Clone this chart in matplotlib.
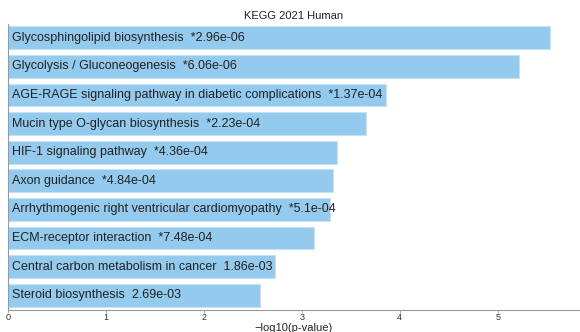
import numpy as np
import matplotlib.pyplot as plt

plt.rcParams['font.family'] = ['Liberation Sans', 'DejaVu Sans']

terms = ['Glycosphingolipid biosynthesis',
         'Glycolysis / Gluconeogenesis',
         'AGE-RAGE signaling pathway in diabetic complications',
         'Mucin type O-glycan biosynthesis',
         'HIF-1 signaling pathway',
         'Axon guidance',
         'Arrhythmogenic right ventricular cardiomyopathy',
         'ECM-receptor interaction',
         'Central carbon metabolism in cancer',
         'Steroid biosynthesis']
pvals = ['2.96e-06', '6.06e-06', '1.37e-04', '2.23e-04', '4.36e-04',
         '4.84e-04', '5.1e-04', '7.48e-04', '1.86e-03', '2.69e-03']
significant = [True, True, True, True, True, True, True, True, False, False]

scores = [-np.log10(float(p)) for p in pvals]
ypos = np.arange(len(terms))[::-1]

fig = plt.figure(figsize=(5.8, 3.32), dpi=100)
ax = fig.add_axes([8 / 580, 22.5 / 332, 572 / 580, 286 / 332])

ax.barh(ypos, scores, height=0.8, color='#94caed', edgecolor='#c4e2f6', linewidth=0.8)

for y, term, p, sig in zip(ypos, terms, pvals, significant):
    star = '*' if sig else ''
    ax.text(0.04, y, f'{term}  {star}{p}', va='center', ha='left', fontsize=9, color='#222222')

ax.set_xlim(0, 5.84)
ax.set_ylim(-0.5, 9.5)
ax.set_yticks([])
ax.set_xticks([0, 1, 2, 3, 4, 5])
ax.tick_params(axis='x', labelsize=6.5, length=2, width=0.6, color='#999999', pad=0.5, labelcolor='#333333')
for side in ['top', 'right']:
    ax.spines[side].set_visible(False)
for side in ['left', 'bottom']:
    ax.spines[side].set_color('#999999')
    ax.spines[side].set_linewidth(0.8)

ax.set_xlabel('\u2212log10(p-value)', fontsize=8, labelpad=0.5, color='#222222')
ax.set_title('KEGG 2021 Human', fontsize=8, pad=3, color='#222222')

fig.savefig('out.png', dpi=100)
